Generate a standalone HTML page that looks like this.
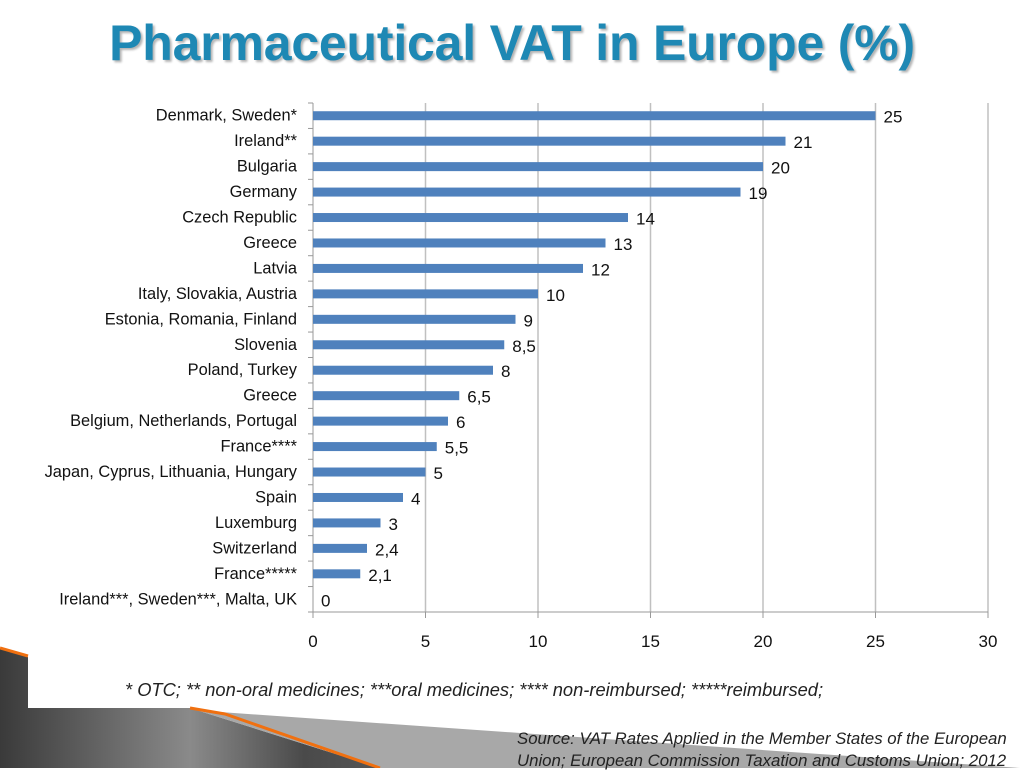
<!DOCTYPE html>
<html><head><meta charset="utf-8"><style>
body{margin:0;width:1024px;height:768px;overflow:hidden;background:#fff;font-family:"Liberation Sans",sans-serif}
#title{position:absolute;left:0;top:14px;width:1024px;text-align:center;font-size:50px;font-weight:bold;color:#1e88b4;text-shadow:2px 2px 2px rgba(0,0,0,0.3);letter-spacing:-0.2px}
svg{position:absolute;left:0;top:0}
</style></head><body>
<svg width="1024" height="768">
<defs><linearGradient id="g" x1="0" x2="1"><stop offset="0" stop-color="#3a3a3a"/><stop offset="0.5" stop-color="#8a8a8a"/><stop offset="0.8" stop-color="#4a4a4a"/><stop offset="1" stop-color="#555"/></linearGradient></defs>
<polygon points="0,648 28,657 28,708 190,708 380,768 0,768" fill="url(#g)"/>
<polygon points="190,708 220,712 1020,768 380,768" fill="#a8a8a8"/>
<polyline points="0,648 28,656" stroke="#f07010" stroke-width="3" fill="none"/>
<polyline points="190,708 225,714 380,768" stroke="#f07010" stroke-width="3" fill="none"/>
</svg>
<div id="title">Pharmaceutical VAT in Europe (%)</div>
<svg id="chart" width="1024" height="768"></svg>
<div style="position:absolute;left:125px;top:679px;font-size:18.3px;font-style:italic;color:#222;white-space:nowrap">* OTC; ** non-oral medicines; ***oral medicines; **** non-reimbursed; *****reimbursed;</div>
<div style="position:absolute;left:517px;top:728px;font-size:16.8px;font-style:italic;color:#222;line-height:22px;white-space:nowrap">Source: VAT Rates Applied in the Member States of the European<br>Union; European Commission Taxation and Customs Union; 2012</div>
<script>
const categories=["Denmark, Sweden*","Ireland**","Bulgaria","Germany","Czech Republic","Greece","Latvia","Italy, Slovakia, Austria","Estonia, Romania, Finland","Slovenia","Poland, Turkey","Greece","Belgium, Netherlands, Portugal","France****","Japan, Cyprus, Lithuania, Hungary","Spain","Luxemburg","Switzerland","France*****","Ireland***, Sweden***, Malta, UK"];
const values=[25,21,20,19,14,13,12,10,9,8.5,8,6.5,6,5.5,5,4,3,2.4,2.1,0];
const ticks=[0,5,10,15,20,25,30];
const svg=document.getElementById('chart');
const NS='http://www.w3.org/2000/svg';
const X0=313,X1=988,Y0=103,Y1=612,XMAX=30;
const x=v=>X0+(X1-X0)*v/XMAX;
const band=(Y1-Y0)/categories.length;
const y=i=>Y0+band*(i+0.5);
function mk(t,a){const e=document.createElementNS(NS,t);for(const k in a)e.setAttribute(k,a[k]);svg.appendChild(e);return e;}
ticks.forEach(t=>{
 if(t>0){const g=mk('line',{x1:x(t),x2:x(t),y1:Y0,y2:Y1,stroke:'#c0c0c0','stroke-width':1.5});
 
 }
 const tk=mk('line',{x1:x(t),x2:x(t),y1:Y1,y2:Y1+6,stroke:'#999'});
 
 
 const l=mk('text',{x:x(t),y:Y1+35,'text-anchor':'middle','font-size':17,fill:'#111'});l.textContent=t;
 
 
});
const ax=mk('line',{x1:X0,x2:X0,y1:Y0,y2:Y1,stroke:'#999'});


const bx=mk('line',{x1:X0,x2:X1,y1:Y1,y2:Y1,stroke:'#999'});


for(let i=0;i<=categories.length;i++){const t=mk('line',{x1:X0-5,x2:X0,y1:Y0+band*i,y2:Y0+band*i,stroke:'#999'});
 
 }
categories.forEach((c,i)=>{
 const l=mk('text',{x:297,y:y(i)+5,'text-anchor':'end','font-size':16.4,fill:'#111'});l.textContent=c;
 
 
 const b=mk('rect',{x:X0,y:y(i)-4.5,width:Math.max(0,x(values[i])-X0),height:9,fill:'#4f81bd'});
 
 
 const v=mk('text',{x:x(values[i])+8,y:y(i)+7,'font-size':17,fill:'#111'});v.textContent=String(values[i]).replace('.',',');
 
 
});
</script>
</body></html>
